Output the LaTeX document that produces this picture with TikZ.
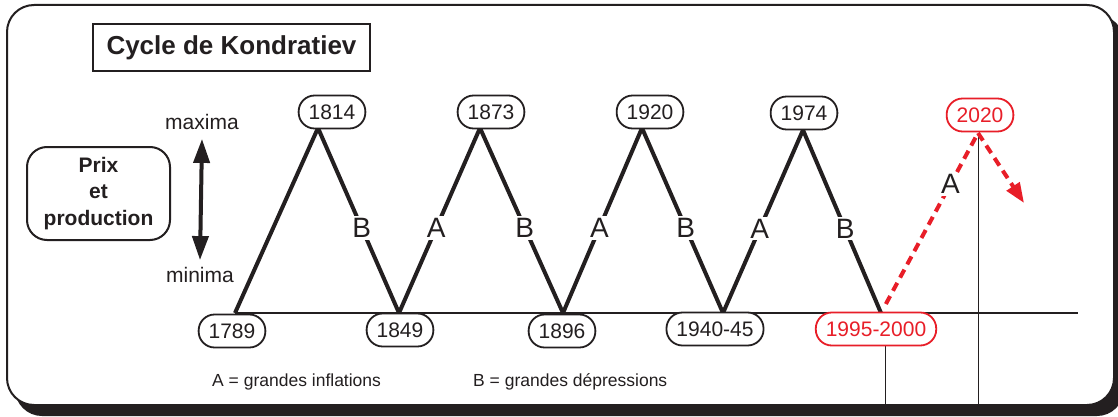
\documentclass[tikz,border=0pt]{standalone}
\usepackage{fontspec}
\setmainfont{Liberation Sans}
\usetikzlibrary{calc,positioning,arrows.meta}
\definecolor{ink}{RGB}{35,31,32}
\definecolor{rouge}{RGB}{232,30,40}
\tikzset{
  year/.style={draw=ink, text=ink, line width=1.8pt, rounded corners=16pt, minimum height=33pt, inner xsep=10pt, inner ysep=0pt, font=\fontsize{21}{21}\selectfont, fill=white},
  redyear/.style={year, draw=rouge, text=rouge},
  cycleline/.style={ink, line width=4pt},
  futureline/.style={rouge, line width=4pt, dash pattern=on 9pt off 6pt},
  phase/.style={fill=white, text=ink, inner sep=2pt, font=\fontsize{28}{28}\selectfont},
  axislabel/.style={text=ink, inner sep=0pt, font=\fontsize{21}{21}\selectfont},
  legend/.style={text=ink, inner sep=0pt, anchor=west, font=\fontsize{17.5}{17.5}\selectfont}
}
\begin{document}
\begin{tikzpicture}[x=1pt,y=-1pt]
\useasboundingbox (0,0) rectangle (1118,417);
\fill[ink, rounded corners=27pt] (15,15) rectangle (1124,416);
\filldraw[fill=white, draw=ink, line width=2pt, rounded corners=27pt] (7,5) rectangle (1114,405);
\node[draw=ink, line width=2pt, minimum width=277pt, minimum height=47pt, text=ink, font=\bfseries\fontsize{26}{26}\selectfont] (title) at (231.5,47.5) {Cycle de Kondratiev};
\node[draw=ink, line width=2pt, rounded corners=20pt, minimum width=143pt, minimum height=93pt, align=center, text=ink, font=\bfseries\fontsize{21}{26.5}\selectfont] (prix) at (98.5,193.5) {Prix\\et\\production};
\node[axislabel] (maxima) at (202,122) {maxima};
\node[axislabel] (minima) at (200,275) {minima};
\draw[ink, line width=4pt, {Triangle[length=24pt,width=16pt]}-{Triangle[length=24pt,width=16pt]}] ([yshift=-9pt]maxima.south) -- ([yshift=7pt]minima.north);
\coordinate (t1789) at (235,313);
\coordinate (t1849) at (399,313);
\coordinate (t1896) at (563,313);
\coordinate (t1940) at (723,313);
\coordinate (t1995) at (881,313);
\coordinate (p1814) at (318,128);
\coordinate (p1873) at (480,128);
\coordinate (p1920) at (642,128);
\coordinate (p1974) at (803,130);
\coordinate (p2020) at (978,133);
\coordinate (fin) at (1078,313);
\coordinate (down) at (1024,203);
\draw[ink, line width=1.5pt] (t1789) -- (fin);
\draw[ink, line width=0.9pt] (978,133) -- (978,405);
\draw[ink, line width=0.9pt] (885,340) -- (885,405);
\draw[cycleline] (t1789) -- (p1814);
\draw[cycleline] (p1814) -- node[phase, pos=.54] (b1) {B} (t1849);
\draw[cycleline] (t1849) -- node[phase, pos=.46] (a1) {A} (p1873);
\draw[cycleline] (p1873) -- node[phase, pos=.54] (b2) {B} (t1896);
\draw[cycleline] (t1896) -- node[phase, pos=.46] (a2) {A} (p1920);
\draw[cycleline] (p1920) -- node[phase, pos=.54] (b3) {B} (t1940);
\draw[cycleline] (t1940) -- node[phase, pos=.46] (a3) {A} (p1974);
\draw[cycleline] (p1974) -- node[phase, pos=.54] (b4) {B} (t1995);
\draw[futureline] ($(t1995)!0.05!(p2020)$) -- node[phase, pos=.7] (a4) {A} (p2020);
\draw[futureline, -{Triangle[length=20pt,width=15pt]}] (p2020) -- (down);
\node[year] (n1789) at (232,331) {1789};
\node[year] (n1849) at (400,330) {1849};
\node[year] (n1896) at (562,331) {1896};
\node[year] (n1940) at (715,329) {1940-45};
\node[redyear] (n1995) at (876,329) {1995-2000};
\node[year] (n1814) at (332,112) {1814};
\node[year] (n1873) at (491,112) {1873};
\node[year] (n1920) at (650,112) {1920};
\node[year] (n1974) at (804,113) {1974};
\node[redyear] (n2020) at (980,115) {2020};
\node[legend] (legA) at (212,382) {A = grandes inflations};
\node[legend] (legB) at (473,382) {B = grandes dépressions};
\end{tikzpicture}
\end{document}
